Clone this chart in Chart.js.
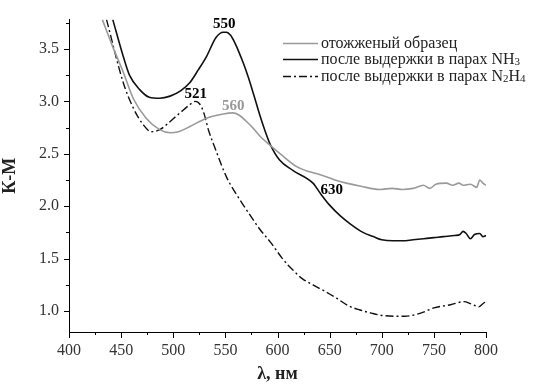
<!DOCTYPE html>
<html>
<head>
<meta charset="utf-8">
<script src="https://cdn.jsdelivr.net/npm/chart.js@4.4.1/dist/chart.umd.min.js"></script>
<style>
  html, body { margin: 0; padding: 0; background: #fff; }
  #wrap { width: 538px; height: 385px; }
</style>
</head>
<body>
<div id="wrap"><canvas id="km"></canvas></div>
<script>
// wavelengths (nm) and K-M values
const annealedX = [432, 442, 452, 461.5, 474, 487, 497, 505, 516, 532, 548, 557, 563, 570, 577, 583, 593, 605, 618, 630, 641, 655, 666, 680, 698, 710, 720, 730, 740, 746, 752, 762, 768, 774, 778, 785, 791, 794, 797, 800];
const annealedY = [3.78, 3.52, 3.28, 3.03, 2.84, 2.73, 2.70, 2.71, 2.76, 2.84, 2.88, 2.89, 2.87, 2.81, 2.74, 2.67, 2.58, 2.48, 2.38, 2.33, 2.30, 2.25, 2.22, 2.19, 2.16, 2.17, 2.16, 2.17, 2.20, 2.17, 2.21, 2.22, 2.20, 2.22, 2.20, 2.21, 2.18, 2.25, 2.22, 2.20];

const nh3X = [442, 452, 458, 468, 477, 487, 497, 507, 516, 524, 532, 541, 548, 551, 555, 559, 563, 567, 572, 577, 583, 588, 593, 602, 615, 634, 642, 650, 660, 670, 682, 692, 700, 711, 720, 730, 740, 750, 759, 770, 775, 778, 781, 785, 789, 794, 797, 800];
const nh3Y = [3.78, 3.43, 3.25, 3.11, 3.04, 3.03, 3.05, 3.10, 3.18, 3.30, 3.43, 3.61, 3.66, 3.66, 3.63, 3.56, 3.47, 3.37, 3.23, 3.07, 2.87, 2.72, 2.59, 2.44, 2.34, 2.22, 2.11, 2.01, 1.91, 1.83, 1.75, 1.71, 1.68, 1.67, 1.67, 1.68, 1.69, 1.70, 1.71, 1.72, 1.73, 1.76, 1.74, 1.69, 1.73, 1.74, 1.71, 1.72];

const n2h4X = [436, 452, 461.5, 471, 479, 487, 495, 503, 510, 516, 521, 525, 529, 534, 541, 551, 564, 574, 583, 593, 604, 610, 615, 620, 625, 634, 647, 657, 668, 679, 690, 699, 714, 722, 730, 740, 750, 766, 779, 785, 790, 793, 797, 800];
const n2h4Y = [3.78, 3.18, 2.94, 2.78, 2.71, 2.73, 2.79, 2.86, 2.92, 2.97, 3.00, 2.98, 2.90, 2.72, 2.53, 2.28, 2.06, 1.91, 1.78, 1.66, 1.51, 1.44, 1.39, 1.34, 1.30, 1.25, 1.18, 1.12, 1.05, 1.01, 0.98, 0.96, 0.95, 0.95, 0.96, 0.99, 1.03, 1.06, 1.09, 1.07, 1.05, 1.04, 1.07, 1.09];

const seriesNames = ['отожженый образец', 'после выдержки в парах NH3', 'после выдержки в парах N2H4'];

const yMajorTicks = [1.0, 1.5, 2.0, 2.5, 3.0, 3.5];
const yMinorTicks = [1.25, 1.75, 2.25, 2.75, 3.25, 3.75];
const xMajorTicks = [400, 450, 500, 550, 600, 650, 700, 750, 800];
const xMinorTicks = [425, 475, 525, 575, 625, 675, 725, 775];

// peak labels
const peakText = ['550', '521', '560', '630'];
const peakX = [549, 521.5, 557.6, 652];
const peakY = [3.74, 3.07, 2.95, 2.15];
const peakColor = ['#000', '#000', '#999', '#000'];

const SERIF = '"Liberation Serif", "Times New Roman", serif';

function pts(xs, ys) {
  return xs.map((x, i) => ({ x: x, y: ys[i] }));
}

// tick marks: outward, majors longer
const tickPlugin = {
  id: 'ticks',
  afterDraw(chart) {
    const ctx = chart.ctx;
    const xs = chart.scales.x, ys = chart.scales.y;
    const a = chart.chartArea;
    ctx.save();
    ctx.strokeStyle = '#000';
    ctx.lineWidth = 1;
    ctx.beginPath();
    xMajorTicks.forEach(v => { const p = Math.round(xs.getPixelForValue(v)) + 0.5; ctx.moveTo(p, a.bottom); ctx.lineTo(p, a.bottom + 6); });
    xMinorTicks.forEach(v => { const p = Math.round(xs.getPixelForValue(v)) + 0.5; ctx.moveTo(p, a.bottom); ctx.lineTo(p, a.bottom + 3); });
    yMajorTicks.forEach(v => { const p = Math.round(ys.getPixelForValue(v)) + 0.5; ctx.moveTo(a.left, p); ctx.lineTo(a.left - 5, p); });
    yMinorTicks.forEach(v => { const p = Math.round(ys.getPixelForValue(v)) + 0.5; ctx.moveTo(a.left, p); ctx.lineTo(a.left - 3, p); });
    ctx.stroke();

    // peak labels
    ctx.font = 'bold 15px ' + SERIF;
    ctx.textAlign = 'center';
    ctx.textBaseline = 'middle';
    peakText.forEach((t, i) => {
      ctx.fillStyle = peakColor[i];
      ctx.fillText(t, xs.getPixelForValue(peakX[i]), ys.getPixelForValue(peakY[i]));
    });
    ctx.restore();
  }
};

// legend drawn by hand so the digits come out as subscripts
const legendPlugin = {
  id: 'myLegend',
  afterDraw(chart) {
    const ctx = chart.ctx;
    const x0 = 283, x1 = 318, tx = 321;
    const rows = [43, 59, 76];
    ctx.save();
    chart.data.datasets.forEach((ds, i) => {
      const y = rows[i];
      ctx.strokeStyle = ds.borderColor;
      ctx.lineWidth = ds.borderWidth;
      ctx.setLineDash(ds.borderDash || []);
      ctx.beginPath();
      ctx.moveTo(x0, y + 0.5);
      ctx.lineTo(x1, y + 0.5);
      ctx.stroke();
      ctx.setLineDash([]);
      ctx.fillStyle = '#222';
      ctx.textBaseline = 'alphabetic';
      ctx.textAlign = 'left';
      let x = tx;
      ds.label.split(/(\d)/).forEach(part => {
        if (!part) return;
        const sub = /\d/.test(part);
        ctx.font = (sub ? '11px ' : '16px ') + SERIF;
        ctx.fillText(part, x, y + 5 + (sub ? 1 : 0));
        x += ctx.measureText(part).width;
      });
    });
    ctx.restore();
  }
};

new Chart(document.getElementById('km'), {
  type: 'line',
  data: {
    datasets: [
      { label: seriesNames[0], data: pts(annealedX, annealedY), borderColor: '#9a9a9a', borderWidth: 1.6 },
      { label: seriesNames[1], data: pts(nh3X, nh3Y), borderColor: '#111', borderWidth: 1.6 },
      { label: seriesNames[2], data: pts(n2h4X, n2h4Y), borderColor: '#111', borderWidth: 1.4, borderDash: [8, 3, 2, 3] }
    ]
  },
  options: {
    responsive: true,
    maintainAspectRatio: false,
    animation: false,
    layout: { padding: { top: 13, right: 52, left: 0, bottom: 0 } },
    elements: {
      point: { radius: 0 },
      line: { cubicInterpolationMode: 'monotone', fill: false }
    },
    plugins: { legend: { display: false }, tooltip: { enabled: false } },
    scales: {
      x: {
        type: 'linear',
        min: 400, max: 800,
        afterBuildTicks: s => { s.ticks = xMajorTicks.map(v => ({ value: v })); },
        afterFit: s => { s.height = 53; },
        grid: { display: false, drawTicks: false },
        border: { display: true, color: '#000', width: 1 },
        ticks: { color: '#333', font: { family: SERIF, size: 16 }, padding: 9, maxRotation: 0 },
        title: { display: true, text: 'λ, нм', color: '#222', font: { family: SERIF, size: 18, weight: 'bold' }, padding: { top: 0, bottom: 0 } }
      },
      y: {
        type: 'linear',
        min: 0.8, max: 3.78,
        afterBuildTicks: s => { s.ticks = yMajorTicks.map(v => ({ value: v })); },
        afterFit: s => { s.width = 69; },
        grid: { display: false, drawTicks: false },
        border: { display: true, color: '#000', width: 1 },
        ticks: { color: '#333', font: { family: SERIF, size: 16 }, padding: 10, callback: v => v.toFixed(1) },
        title: { display: true, text: 'К-М', color: '#222', font: { family: SERIF, size: 18, weight: 'bold' }, padding: { top: 0, bottom: 2 } }
      }
    }
  },
  plugins: [tickPlugin, legendPlugin]
});
</script>
</body>
</html>
